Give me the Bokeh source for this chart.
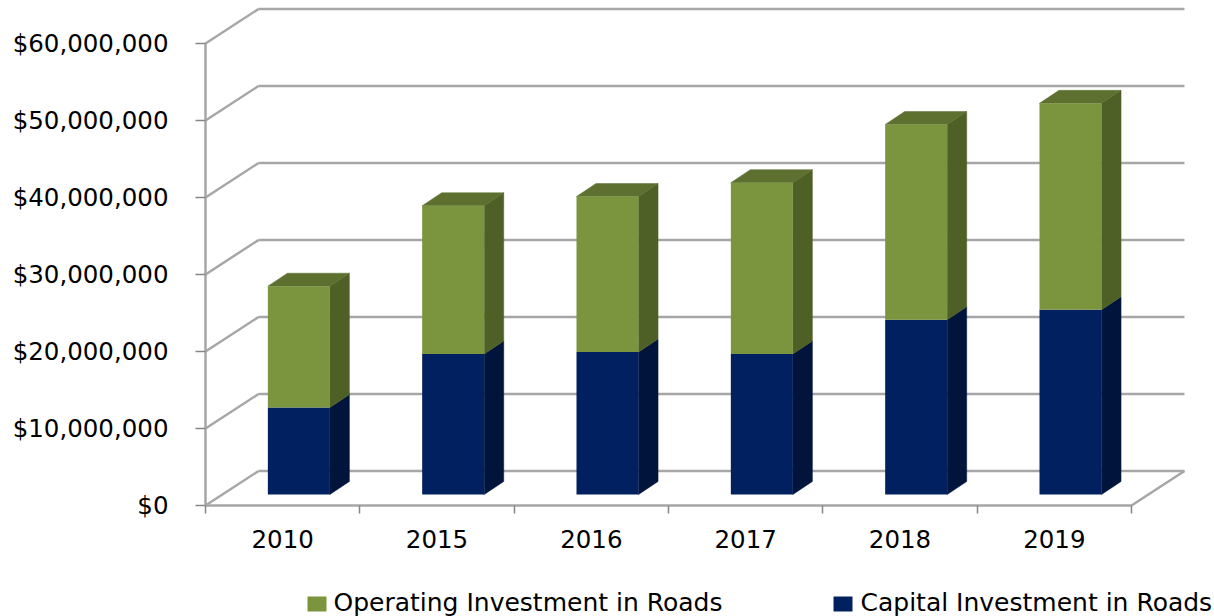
from bokeh.core.properties import value
from bokeh.embed import file_html
from bokeh.resources import INLINE
from bokeh.plotting import figure
from bokeh.models import FixedTicker, NumeralTickFormatter, Range1d

years = ["2010", "2015", "2016", "2017", "2018", "2019"]
capital = [11300000, 18250000, 18500000, 18250000, 22700000, 24000000]
operating = [15750000, 19250000, 20200000, 22250000, 25350000, 26800000]
y_ticks = [0, 10000000, 20000000, 30000000, 40000000, 50000000, 60000000]
legend_labels = ["Operating Investment in Roads", "Capital Investment in Roads"]

PX_X = 154.33
PX_Y = 7.7e-6
WALL_DX = 53 / PX_X
WALL_DY = 34.5 / PX_Y
BAR_LEFT = 0.404
BAR_W = 0.402
BAR_DX = 19.5 / PX_X
BAR_DY = 13 / PX_Y
FLOOR_Y = 11 / PX_Y
GRID = "#a6a6a6"
FONT = "DejaVu Sans"
GREEN = "#7a953e"
NAVY = "#00205f"

p = figure(width=1214, height=616, output_backend="svg", toolbar_location=None,
           x_range=Range1d(-205 / PX_X, 1009 / PX_X), y_range=Range1d(-111 / PX_Y, 505 / PX_Y),
           min_border_left=0, min_border_right=0, min_border_top=0,
           min_border_bottom=0, outline_line_color=None)
p.grid.visible = False
p.background_fill_color = "white"

n = len(years)
# back wall grid lines, side wall diagonals, floor edge
p.segment(x0=[WALL_DX] * len(y_ticks), y0=[t + WALL_DY for t in y_ticks],
          x1=[n + WALL_DX] * len(y_ticks), y1=[t + WALL_DY for t in y_ticks],
          line_color=GRID, line_width=2.5)
p.segment(x0=[0] * len(y_ticks), y0=y_ticks,
          x1=[WALL_DX] * len(y_ticks), y1=[t + WALL_DY for t in y_ticks],
          line_color=GRID, line_width=2.5)
p.segment(x0=[n], y0=[0], x1=[n + WALL_DX], y1=[WALL_DY], line_color=GRID, line_width=2.5)


def faces(lo, hi):
    lefts = [i + BAR_LEFT for i in range(n)]
    rights = [l + BAR_W for l in lefts]
    bottoms = [v + FLOOR_Y for v in lo]
    tops = [v + FLOOR_Y for v in hi]
    side_x = [[r, r + BAR_DX, r + BAR_DX, r] for r in rights]
    side_y = [[b, b + BAR_DY, t + BAR_DY, t] for b, t in zip(bottoms, tops)]
    top_x = [[l, l + BAR_DX, r + BAR_DX, r] for l, r in zip(lefts, rights)]
    top_y = [[t, t + BAR_DY, t + BAR_DY, t] for t in tops]
    return lefts, rights, bottoms, tops, side_x, side_y, top_x, top_y


zero = [0] * n
totals = [c + o for c, o in zip(capital, operating)]

l, r, b, t, sx, sy, tx, ty = faces(zero, capital)
p.patches(sx, sy, fill_color="#00143c", line_color="#00143c", line_width=0.5)
p.quad(left=l, right=r, bottom=b, top=t, fill_color=NAVY, line_color=None)

l, r, b, t, sx, sy, tx, ty = faces(capital, totals)
p.patches(sx, sy, fill_color="#4f6027", line_color="#4f6027", line_width=0.5)
p.patches(tx, ty, fill_color="#5d7030", line_color="#5d7030", line_width=0.5)
p.quad(left=l, right=r, bottom=b, top=t, fill_color=GREEN, line_color=None)

xa = p.xaxis[0]
xa.fixed_location = 0
xa.ticker = FixedTicker(ticks=[i + 0.5 for i in range(n)], minor_ticks=list(range(n + 1)))
xa.major_label_overrides = {i + 0.5: y for i, y in enumerate(years)}
xa.bounds = (0, n)
xa.axis_line_color = GRID
xa.axis_line_width = 2.5
xa.major_tick_out = 0
xa.major_tick_in = 0
xa.minor_tick_out = 8
xa.minor_tick_in = 0
xa.minor_tick_line_color = "#868686"
xa.minor_tick_line_width = 1.5
xa.major_label_text_font = FONT
xa.major_label_text_font_size = "24.5px"
xa.major_label_text_color = "black"
xa.major_label_standoff = 16

ya = p.yaxis[0]
ya.fixed_location = 0
ya.ticker = FixedTicker(ticks=y_ticks)
ya.formatter = NumeralTickFormatter(format="$0,0")
ya.bounds = (0, 60000000)
ya.axis_line_color = GRID
ya.axis_line_width = 2.5
ya.major_tick_out = 10
ya.major_tick_in = 0
ya.minor_tick_out = 0
ya.minor_tick_in = 0
ya.major_tick_line_color = "#868686"
ya.major_tick_line_width = 1.5
ya.major_label_text_font = FONT
ya.major_label_text_font_size = "24.5px"
ya.major_label_text_color = "black"
ya.major_label_standoff = 27

# legend drawn as swatches and text below the axis
swatch_px = [102, 628]
text_px = [128, 655]
p.quad(left=[s / PX_X for s in swatch_px], right=[(s + 19) / PX_X for s in swatch_px],
       bottom=[-106 / PX_Y] * 2, top=[-91 / PX_Y] * 2,
       fill_color=[GREEN, NAVY], line_color=None)
p.text(x=[s / PX_X for s in text_px], y=[-97 / PX_Y] * 2, text=legend_labels,
       text_font=value(FONT), text_font_size="25px", text_color="black",
       text_baseline="middle", text_align="left")

open("out.html", "w").write(file_html(p, INLINE))
